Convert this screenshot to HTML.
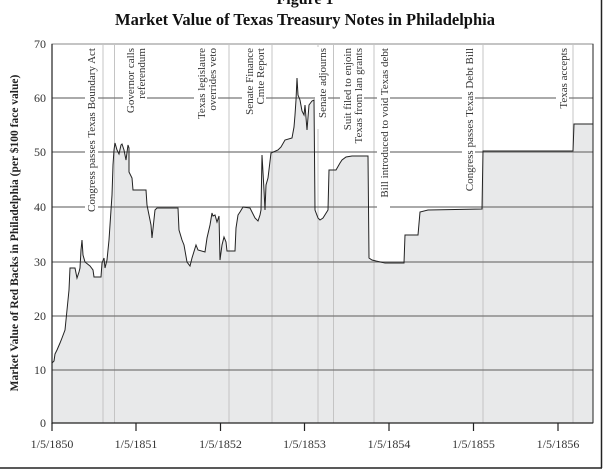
<!DOCTYPE html>
<html><head><meta charset="utf-8"><style>
html,body{margin:0;padding:0;background:#fff;}
svg{display:block;}
text{font-family:"Liberation Serif",serif;}
</style></head><body>
<svg width="610" height="474" viewBox="0 0 610 474" xmlns="http://www.w3.org/2000/svg">
<rect width="610" height="474" fill="#fff"/>
<text x="305" y="4" text-anchor="middle" font-size="16" font-weight="bold" fill="#111">Figure 1</text>
<text x="305" y="25" text-anchor="middle" font-size="16.5" font-weight="bold" fill="#111">Market Value of Texas Treasury Notes in Philadelphia</text>
<line x1="601.5" y1="0" x2="601.5" y2="468" stroke="#222" stroke-width="1.5"/>
<line x1="0" y1="468" x2="602" y2="468" stroke="#222" stroke-width="1.5"/>
<rect x="52" y="44" width="541" height="379" fill="#fff" stroke="#888" stroke-width="1"/>
<path d="M52,423 L52,363 L54,361 L55,354 L57,350 L60,343 L62,338 L65,330 L66,320 L68,300 L69,290 L70,268 L75,268 L77,278 L79,272 L80,268 L81,250 L82,240 L83,255 L85,262 L90,266 L93,270 L94,277 L101,277 L102,263 L104,258 L105,268 L107,260 L109,240 L111,210 L112,195 L113,165 L114,150 L115,143 L117,150 L119,154 L121,145 L122,144 L124,150 L126,160 L128,145 L129,148 L129,172 L132,178 L133,190 L146,190 L147,205 L149,215 L151,225 L152,238 L155,210 L157,208 L178,208 L179,230 L182,240 L184,245 L187,262 L190,266 L192,258 L196,245 L198,250 L205,252 L207,238 L210,225 L212,213 L213,216 L215,215 L217,222 L219,216 L220,260 L222,245 L224,237 L226,242 L227,251 L235,251 L236,228 L238,215 L240,212 L243,207 L250,208 L255,218 L258,221 L260,215 L261,210 L262,155 L264,190 L265,210 L266,185 L268,178 L271,153 L278,150 L281,147 L285,140 L292,138 L294,127 L295,115 L296,100 L297,78 L298,95 L300,100 L302,111 L304,115 L305,105 L307,130 L309,105 L312,101 L314,100 L315,210 L318,218 L320,220 L323,218 L328,210 L329,170 L336,170 L340,163 L342,160 L346,157 L352,156 L368,156 L369,258 L372,260 L376,261 L385,263 L404,263 L405,235 L418,235 L420,212 L428,210 L482,209 L483,151 L573,151 L574,124 L593,124 L593,423 Z" fill="#e8e9ea" stroke="none"/>
<g stroke="#c4c4c4" stroke-width="1">
<line x1="103" y1="44" x2="103" y2="423"/><line x1="114.5" y1="44" x2="114.5" y2="423"/>
<line x1="229" y1="44" x2="229" y2="423"/><line x1="272" y1="44" x2="272" y2="423"/>
<line x1="318" y1="44" x2="318" y2="423"/><line x1="333.5" y1="44" x2="333.5" y2="423"/>
<line x1="374" y1="44" x2="374" y2="423"/><line x1="483" y1="44" x2="483" y2="423"/>
<line x1="573" y1="44" x2="573" y2="423"/>
</g>
<g stroke="#777" stroke-width="1.3">
<line x1="52" y1="370" x2="593" y2="370"/><line x1="52" y1="316" x2="593" y2="316"/>
<line x1="52" y1="262" x2="593" y2="262"/><line x1="52" y1="207" x2="593" y2="207"/>
<line x1="52" y1="152" x2="593" y2="152"/><line x1="52" y1="98" x2="593" y2="98"/>
</g>
<path d="M52,363 L54,361 L55,354 L57,350 L60,343 L62,338 L65,330 L66,320 L68,300 L69,290 L70,268 L75,268 L77,278 L79,272 L80,268 L81,250 L82,240 L83,255 L85,262 L90,266 L93,270 L94,277 L101,277 L102,263 L104,258 L105,268 L107,260 L109,240 L111,210 L112,195 L113,165 L114,150 L115,143 L117,150 L119,154 L121,145 L122,144 L124,150 L126,160 L128,145 L129,148 L129,172 L132,178 L133,190 L146,190 L147,205 L149,215 L151,225 L152,238 L155,210 L157,208 L178,208 L179,230 L182,240 L184,245 L187,262 L190,266 L192,258 L196,245 L198,250 L205,252 L207,238 L210,225 L212,213 L213,216 L215,215 L217,222 L219,216 L220,260 L222,245 L224,237 L226,242 L227,251 L235,251 L236,228 L238,215 L240,212 L243,207 L250,208 L255,218 L258,221 L260,215 L261,210 L262,155 L264,190 L265,210 L266,185 L268,178 L271,153 L278,150 L281,147 L285,140 L292,138 L294,127 L295,115 L296,100 L297,78 L298,95 L300,100 L302,111 L304,115 L305,105 L307,130 L309,105 L312,101 L314,100 L315,210 L318,218 L320,220 L323,218 L328,210 L329,170 L336,170 L340,163 L342,160 L346,157 L352,156 L368,156 L369,258 L372,260 L376,261 L385,263 L404,263 L405,235 L418,235 L420,212 L428,210 L482,209 L483,151 L573,151 L574,124 L593,124" fill="none" stroke="#222" stroke-width="1"/>
<g font-size="11" fill="#333">
<rect x="85" y="47" width="13" height="170" fill="#fff"/>
<text transform="translate(95,48) rotate(-90)" text-anchor="end">Congress passes Texas Boundary Act</text>
<rect x="123" y="47" width="24" height="80" fill="#fff"/>
<text transform="translate(134,48) rotate(-90)" text-anchor="end">Governor calls</text>
<text transform="translate(145,48) rotate(-90)" text-anchor="end">referendum</text>
<rect x="194" y="47" width="24" height="102" fill="#fff"/>
<text transform="translate(205,48) rotate(-90)" text-anchor="end">Texas legislaure</text>
<text transform="translate(216,48) rotate(-90)" text-anchor="end">overrides veto</text>
<rect x="242" y="47" width="24" height="88" fill="#fff"/>
<text transform="translate(253,48) rotate(-90)" text-anchor="end">Senate Finance</text>
<text transform="translate(264,48) rotate(-90)" text-anchor="end">Cmte Report</text>
<rect x="315" y="47" width="13" height="82" fill="#fff"/>
<text transform="translate(326,48) rotate(-90)" text-anchor="end">Senate adjourns</text>
<rect x="340" y="47" width="24" height="104" fill="#fff"/>
<text transform="translate(351,48) rotate(-90)" text-anchor="end">Suit filed to enjoin</text>
<text transform="translate(362,48) rotate(-90)" text-anchor="end">Texas from lan grants</text>
<rect x="377" y="47" width="13" height="164" fill="#fff"/>
<text transform="translate(388,48) rotate(-90)" text-anchor="end">Bill introduced to void Texas debt</text>
<rect x="462" y="47" width="13" height="150" fill="#fff"/>
<text transform="translate(473,48) rotate(-90)" text-anchor="end">Congress passes Texas Debt Bill</text>
<rect x="556" y="47" width="13" height="66" fill="#fff"/>
<text transform="translate(567,48) rotate(-90)" text-anchor="end">Texas accepts</text>
</g>
<line x1="52" y1="44" x2="52" y2="424" stroke="#222" stroke-width="1.2"/>
<line x1="52" y1="423" x2="593" y2="423" stroke="#222" stroke-width="1.2"/>
<line x1="593" y1="44" x2="593" y2="423" stroke="#222" stroke-width="1"/>
<g stroke="#222" stroke-width="1.2">
<line x1="52" y1="423" x2="52" y2="431"/><line x1="136" y1="423" x2="136" y2="431"/>
<line x1="220.5" y1="423" x2="220.5" y2="431"/><line x1="304.5" y1="423" x2="304.5" y2="431"/>
<line x1="389" y1="423" x2="389" y2="431"/><line x1="473.5" y1="423" x2="473.5" y2="431"/>
<line x1="558" y1="423" x2="558" y2="431"/>
</g>
<g font-size="12" fill="#333" text-anchor="middle">
<text x="52" y="448">1/5/1850</text><text x="136" y="448">1/5/1851</text>
<text x="220.5" y="448">1/5/1852</text><text x="304.5" y="448">1/5/1853</text>
<text x="389" y="448">1/5/1854</text><text x="473.5" y="448">1/5/1855</text>
<text x="558" y="448">1/5/1856</text>
</g>
<g font-size="12" fill="#333" text-anchor="end">
<text x="46" y="427">0</text><text x="46" y="374">10</text><text x="46" y="320">20</text>
<text x="46" y="266">30</text><text x="46" y="211">40</text><text x="46" y="156">50</text>
<text x="46" y="102">60</text><text x="46" y="48">70</text>
</g>
<text transform="translate(18,233) rotate(-90)" text-anchor="middle" font-size="11.5" font-weight="bold" fill="#222">Market Value of Red Backs in Philadelphia (per $100 face value)</text>
</svg>
</body></html>
